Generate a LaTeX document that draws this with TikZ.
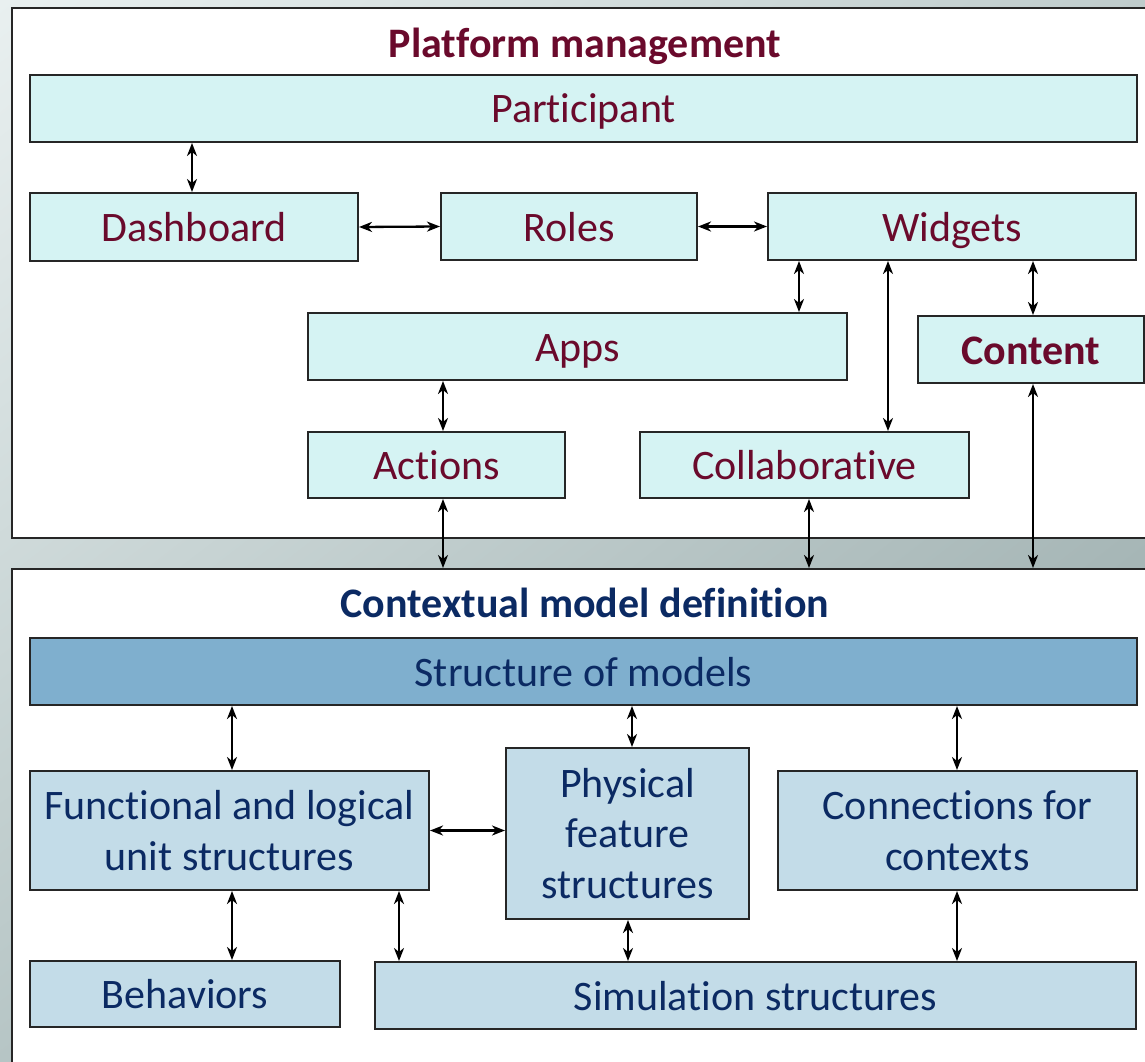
\documentclass[tikz,border=0pt]{standalone}
\usepackage{fontspec}
\setmainfont{Carlito}[Ligatures=CommonOff]
\usetikzlibrary{arrows.meta,shadings}
\definecolor{maroon}{HTML}{6A0A2C}
\definecolor{navy}{HTML}{0B2A63}
\definecolor{topfill}{HTML}{D5F3F3}
\definecolor{lowfill}{HTML}{C3DCE8}
\definecolor{headfill}{HTML}{7FAFCE}
\definecolor{bgul}{HTML}{E9F0F0}
\definecolor{bgur}{HTML}{BFCCCC}
\definecolor{bgll}{HTML}{B6C5C5}
\definecolor{bglr}{HTML}{8FA2A2}
\begin{document}
\begin{tikzpicture}[x=1pt,y=-1pt,
  font=\fontsize{42}{50.5}\selectfont,
  panel/.style={draw=black!85, line width=2pt, fill=white, inner sep=0pt},
  oneline/.style={text height=31pt, text depth=2pt},
  tbox/.style={draw=black!85, line width=2pt, fill=topfill, text=maroon, inner sep=0pt, align=center},
  lbox/.style={draw=black!85, line width=2pt, fill=lowfill, text=navy, inner sep=0pt, align=center},
  link/.style={line width=2.3pt, {Stealth[length=13pt,width=10pt,inset=4pt]}-{Stealth[length=13pt,width=10pt,inset=4pt]}},
  ptitle/.style={font=\fontsize{42}{50.5}\selectfont\bfseries, inner sep=0pt, oneline}]
\useasboundingbox (0,0) rectangle (1145,1062);
% backdrop
\shade[upper left=bgul, upper right=bgur, lower left=bgll, lower right=bglr]
  (0,0) rectangle (1145,1062);
\begin{scope}
\clip (0,0) rectangle (1145,1062);
% the two panels
\node[panel, minimum width=1160pt, minimum height=530pt, anchor=north west] (upper) at (11,7) {};
\node[panel, minimum width=1160pt, minimum height=520pt, anchor=north west] (lower) at (11,568) {};
\node[ptitle, text=maroon] (uptitle) at (585,43) {Platform management};
\node[ptitle, text=navy] (lowtitle) at (585,603) {Contextual model definition};

% platform management boxes
\node[tbox, oneline, minimum width=1107pt, minimum height=67pt] (part) at (583.5,108.5) {Participant};
\node[tbox, oneline, minimum width=328pt, minimum height=68pt] (dash) at (194,227) {Dashboard};
\node[tbox, oneline, minimum width=256pt, minimum height=67pt] (roles) at (569,226.5) {Roles};
\node[tbox, oneline, minimum width=368pt, minimum height=67pt] (widg) at (952,226.5) {Widgets};
\node[tbox, oneline, minimum width=539pt, minimum height=67pt] (apps) at (577.5,346.5) {Apps};
\node[tbox, oneline, minimum width=226pt, minimum height=67pt, font=\fontsize{42}{50.5}\selectfont\bfseries] (cont) at (1031,349.5) {Content};
\node[tbox, oneline, minimum width=257pt, minimum height=66pt] (act) at (436.5,465) {Actions};
\node[tbox, oneline, minimum width=329pt, minimum height=66pt] (coll) at (804.5,465) {Collaborative};

% contextual model boxes
\node[lbox, oneline, fill=headfill, minimum width=1107pt, minimum height=67pt] (som) at (583.5,671.5) {Structure of models};
\node[lbox, minimum width=399pt, minimum height=119pt] (func) at (229.5,830.5) {Functional and logical\\unit structures};
\node[lbox, minimum width=243pt, minimum height=171pt] (phys) at (627.5,833.5) {Physical\\feature\\structures};
\node[lbox, minimum width=359pt, minimum height=119pt] (conn) at (957.5,830.5) {Connections for\\contexts};
\node[lbox, oneline, minimum width=310pt, minimum height=66pt] (beh) at (185,994) {Behaviors};
\node[lbox, oneline, minimum width=761pt, minimum height=67pt] (sim) at (755.5,995.5) {Simulation structures};

% connector columns
\coordinate (c1) at (192,0);
\coordinate (c2) at (799,0);
\coordinate (c3) at (888,0);
\coordinate (c4) at (1033,0);
\coordinate (c5) at (443,0);
\coordinate (c6) at (809,0);
\coordinate (d1) at (232,0);
\coordinate (d2) at (632,0);
\coordinate (d3) at (957,0);
\coordinate (d4) at (399,0);
\coordinate (d5) at (628,0);

% platform management links
\draw[link] (part.south -| c1) -- (dash.north -| c1);
\draw[link] (dash.east) -- (roles.west);
\draw[link] (roles.east) -- (widg.west);
\draw[link] (widg.south -| c2) -- (apps.north -| c2);
\draw[link] (widg.south -| c3) -- (coll.north -| c3);
\draw[link] (widg.south -| c4) -- (cont.north -| c4);
\draw[link] (apps.south -| c5) -- (act.north -| c5);
\draw[link] (act.south -| c5) -- (lower.north -| c5);
\draw[link] (coll.south -| c6) -- (lower.north -| c6);
\draw[link] (cont.south -| c4) -- (lower.north -| c4);

% contextual model links
\draw[link] (som.south -| d1) -- (func.north -| d1);
\draw[link] (som.south -| d2) -- (phys.north -| d2);
\draw[link] (som.south -| d3) -- (conn.north -| d3);
\draw[link] (func.east) -- (phys.west |- func.east);
\draw[link] (func.south -| d1) -- (beh.north -| d1);
\draw[link] (func.south -| d4) -- (sim.north -| d4);
\draw[link] (phys.south -| d5) -- (sim.north -| d5);
\draw[link] (conn.south -| d3) -- (sim.north -| d3);
\end{scope}
\end{tikzpicture}
\end{document}
